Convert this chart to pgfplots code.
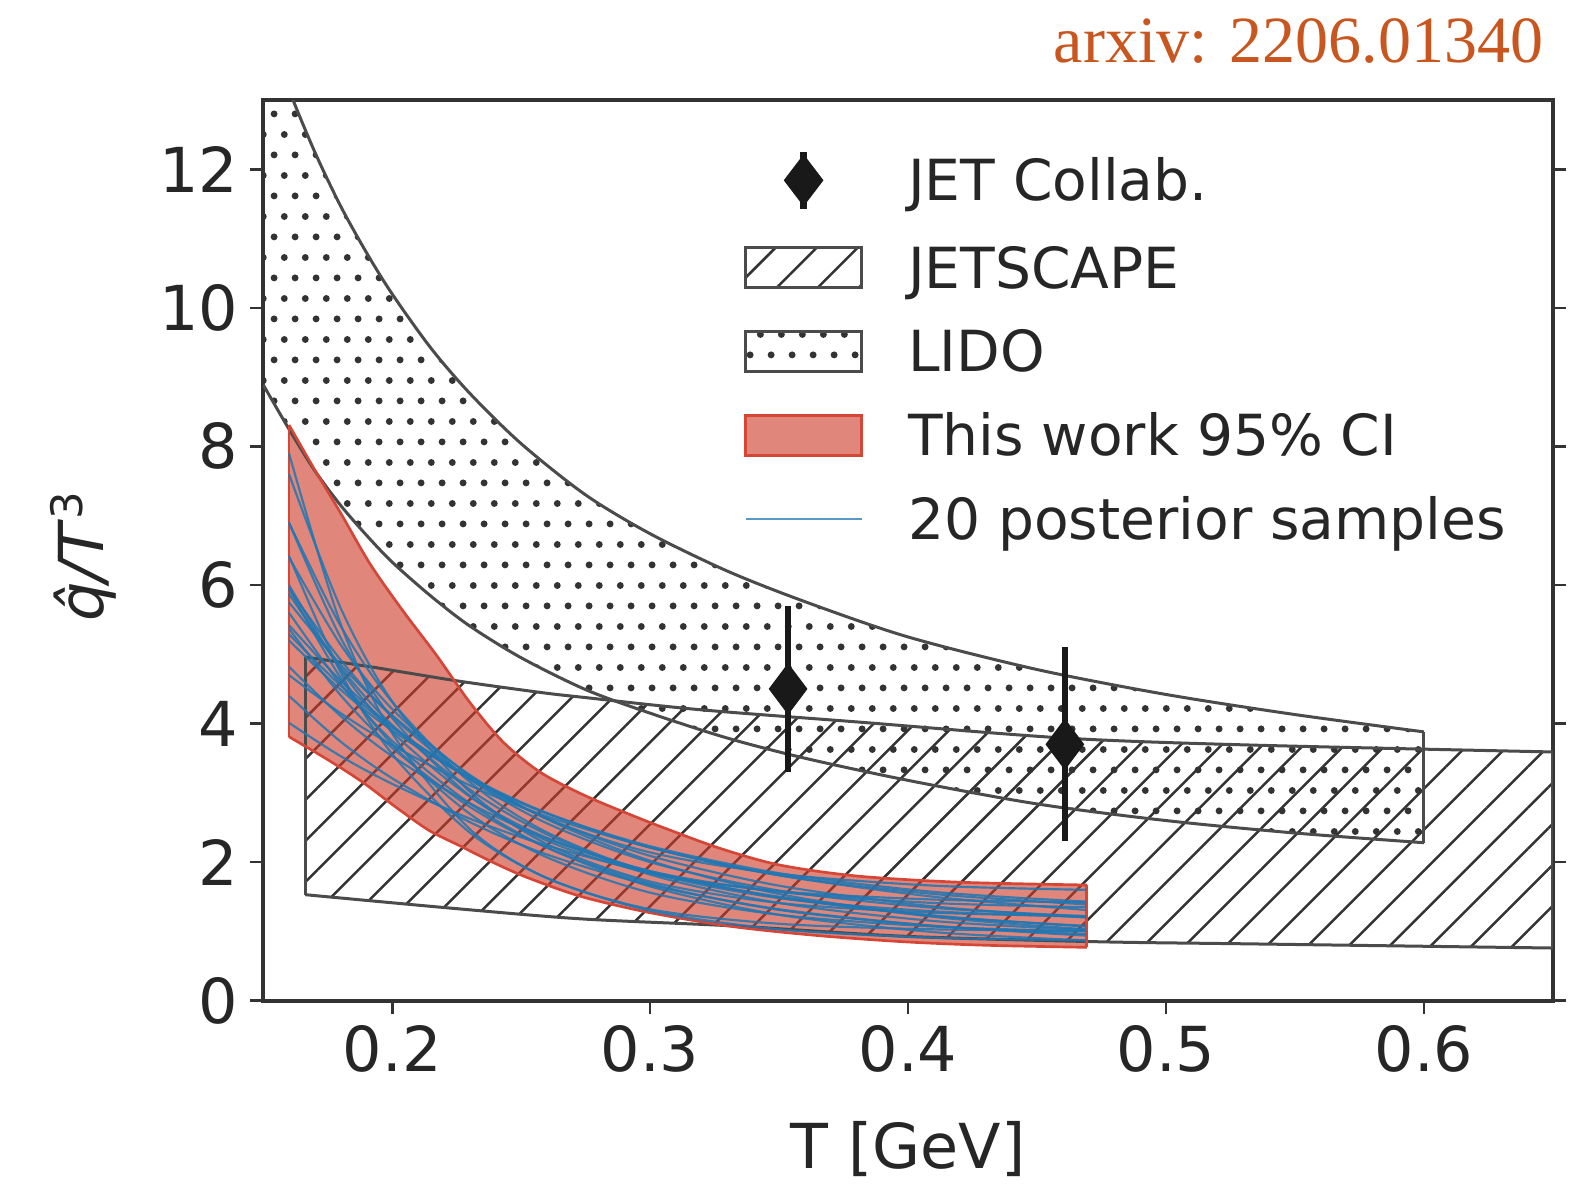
\documentclass[border=0pt]{standalone}
\usepackage{fontspec}
\setmainfont{DejaVu Sans}
\newfontfamily\timesfont{Liberation Serif}
\usepackage{pgfplots}
\usepackage{pgfplotstable}
\pgfplotsset{compat=1.18}
\usepgfplotslibrary{fillbetween}
\usetikzlibrary{patterns,patterns.meta}

\definecolor{edgegray}{RGB}{75,75,75}
\definecolor{redfill}{RGB}{205,60,40}
\definecolor{rededge}{RGB}{214,70,55}
\definecolor{blueline}{RGB}{31,119,180}
\definecolor{arxivcol}{RGB}{200,86,30}

\pgfdeclarepatternformonly{lidodots}{\pgfqpoint{0pt}{0pt}}{\pgfqpoint{6.21pt}{12.42pt}}{\pgfqpoint{6.21pt}{12.42pt}}{%
  \pgfpathcircle{\pgfqpoint{1.55pt}{1.55pt}}{1.05pt}%
  \pgfpathcircle{\pgfqpoint{4.655pt}{7.76pt}}{1.05pt}%
  \pgfusepath{fill}%
}

\pgfplotstableread{
T v
0.150 14.19
0.160 13.15
0.170 12.25
0.180 11.47
0.190 10.80
0.200 10.20
0.215 9.42
0.230 8.77
0.250 8.04
0.275 7.30
0.300 6.74
0.330 6.20
0.360 5.76
0.400 5.25
0.450 4.78
0.500 4.42
0.550 4.13
0.600 3.88
}\lidoU
\pgfplotstableread{
T v
0.150 8.89
0.160 8.25
0.170 7.65
0.180 7.15
0.190 6.72
0.200 6.33
0.215 5.84
0.230 5.41
0.250 4.95
0.275 4.49
0.300 4.15
0.330 3.79
0.360 3.50
0.400 3.18
0.450 2.84
0.500 2.60
0.550 2.42
0.600 2.28
}\lidoL
\pgfplotstableread{
T v
0.1663 4.96
0.1915 4.82
0.2245 4.62
0.2573 4.45
0.2737 4.38
0.3193 4.20
0.3814 4.02
0.4609 3.79
0.5326 3.69
0.6500 3.59
}\jsU
\pgfplotstableread{
T v
0.1663 1.53
0.2245 1.33
0.2736 1.18
0.3318 1.08
0.3985 0.93
0.4745 0.85
0.5326 0.82
0.6500 0.76
}\jsL
\pgfplotstableread{
T v
0.1600 8.31
0.1700 7.66
0.1800 7.04
0.1915 6.30
0.2043 5.62
0.2173 4.98
0.2302 4.30
0.2431 3.73
0.2573 3.30
0.2736 2.98
0.2900 2.72
0.3050 2.50
0.3270 2.20
0.3500 1.96
0.3800 1.80
0.4200 1.71
0.4693 1.67
}\redU
\pgfplotstableread{
T v
0.1600 3.81
0.1754 3.47
0.1883 3.16
0.2012 2.80
0.2142 2.46
0.2271 2.22
0.2400 1.98
0.2529 1.77
0.2736 1.50
0.3000 1.27
0.3319 1.07
0.3650 0.94
0.3985 0.85
0.4300 0.80
0.4693 0.77
}\redL
\pgfplotstableread{
T s1 s2 s3 s4 s5 s6 s7 s8 s9 s10 s11 s12 s13 s14 s15 s16 s17 s18 s19 s20
0.160 7.90 7.60 6.90 6.40 6.00 5.95 5.87 5.42 5.37 5.29 4.82 4.70 4.01 5.95 6.42 5.60 5.75 4.40 6.90 5.20
0.180 5.44 5.67 5.24 5.14 4.78 4.92 4.81 4.62 4.41 4.55 4.11 4.15 3.53 4.66 4.74 4.57 4.85 3.74 5.41 4.49
0.200 3.86 4.32 4.08 4.21 3.88 4.10 3.98 3.96 3.65 3.94 3.53 3.69 3.13 3.70 3.56 3.75 4.12 3.21 4.31 3.90
0.230 2.48 3.02 2.96 3.25 2.95 3.20 3.05 3.20 2.80 3.23 2.85 3.11 2.63 2.70 2.43 2.85 3.26 2.58 3.16 3.21
0.260 1.77 2.26 2.31 2.63 2.35 2.56 2.40 2.63 2.21 2.71 2.34 2.66 2.24 2.07 1.77 2.21 2.62 2.11 2.43 2.70
0.300 1.32 1.72 1.84 2.14 1.87 2.00 1.82 2.09 1.69 2.21 1.87 2.21 1.85 1.56 1.30 1.65 2.02 1.67 1.85 2.23
0.350 1.11 1.41 1.58 1.83 1.57 1.59 1.41 1.66 1.31 1.81 1.49 1.81 1.50 1.24 1.03 1.24 1.54 1.32 1.48 1.84
0.410 1.03 1.27 1.46 1.66 1.41 1.34 1.15 1.36 1.08 1.54 1.22 1.50 1.23 1.07 0.91 0.99 1.21 1.08 1.29 1.57
0.469 1.01 1.22 1.42 1.60 1.35 1.22 1.02 1.20 0.96 1.39 1.08 1.31 1.07 1.00 0.87 0.87 1.03 0.94 1.21 1.43
}\samples

\begin{document}
\begin{tikzpicture}
\begin{axis}[
  at={(0pt,0pt)}, anchor=south west,
  scale only axis, width=386.9pt, height=270.2pt,
  xmin=0.15, xmax=0.65, ymin=0, ymax=13,
  xtick={0.2,0.3,0.4,0.5,0.6}, xticklabels={0.2,0.3,0.4,0.5,0.6},
  ytick={0,2,4,6,8,10,12}, yticklabels={0,2,4,6,8,10,12},
  xtick pos=left, ytick pos=both, yticklabel pos=left,
  tick align=outside,
  major tick length=3.9pt,
  major tick style={line width=0.8pt, draw=black!80},
  axis line style={line width=1.3pt, draw=black!80},
  /pgf/number format/assume math mode=true,
  tick label style={font=\fontsize{18.6}{22}\selectfont, text=black!85},
  xlabel={T [GeV]},
  xlabel style={at={(axis description cs:0.5,0)}, anchor=base, yshift=-50.2pt, font=\fontsize{18.6}{22}\selectfont, text=black!85},
  ylabel={\textit{\^{q}/T}\textsuperscript{3}},
  ylabel style={at={(axis description cs:-0.1396,0.4937)}, anchor=center, font=\fontsize{18.6}{22}\selectfont, text=black!85},
  legend cell align=left,
  legend style={at={(axis description cs:0.3729,0.946)}, anchor=north west, draw=none, fill=none,
    inner sep=0pt, outer sep=0pt, row sep=8.15pt, column sep=13.5pt,
    font=\fontsize{17}{20}\selectfont, text=black!85,
    nodes={inner sep=0pt, text height=14pt, text depth=1.6pt}},
]
% legend entries
\addlegendimage{legend image code/.code={
  \path[draw=none, fill=none] (0pt,-8.5pt) rectangle (34.8pt,8.5pt);
  \draw[line width=2pt, black!90] (17.4pt,-8.5pt) -- (17.4pt,8.5pt);
  \fill[black!90] (17.4pt,7.5pt) -- (23.1pt,0pt) -- (17.4pt,-7.5pt) -- (11.7pt,0pt) -- cycle;
}}
\addlegendentry{JET Collab.}
\addlegendimage{legend image code/.code={
  \path[draw=none, fill=none] (0pt,-8.5pt) rectangle (34.8pt,8.5pt);
  \draw[edgegray, line width=0.9pt, pattern={Lines[angle=45,distance=8.7pt,line width=0.75pt]}, pattern color=black!80] (0pt,-6pt) rectangle (34.8pt,6pt);
}}
\addlegendentry{JETSCAPE}
\addlegendimage{legend image code/.code={
  \path[draw=none, fill=none] (0pt,-8.5pt) rectangle (34.8pt,8.5pt);
  \draw[edgegray, line width=0.9pt, pattern=lidodots, pattern color=black!80] (0pt,-6pt) rectangle (34.8pt,6pt);
}}
\addlegendentry{LIDO}
\addlegendimage{legend image code/.code={
  \path[draw=none, fill=none] (0pt,-8.5pt) rectangle (34.8pt,8.5pt);
  \fill[redfill, fill opacity=0.62] (0pt,-6pt) rectangle (34.8pt,6pt);
  \draw[rededge, line width=0.9pt] (0pt,-6pt) rectangle (34.8pt,6pt);
}}
\addlegendentry{This work 95\% CI}
\addlegendimage{legend image code/.code={
  \path[draw=none, fill=none] (0pt,-8.5pt) rectangle (34.8pt,8.5pt);
  \draw[blueline!75, line width=0.6pt] (0pt,0pt) -- (34.8pt,0pt);
}}
\addlegendentry{20 posterior samples}

% JETSCAPE band
\addplot[draw=none, name path=jsup, forget plot] table[x=T,y=v] {\jsU};
\addplot[draw=none, name path=jslo, forget plot] table[x=T,y=v] {\jsL};
\addplot[draw=none, pattern={Lines[angle=45,distance=8.7pt,line width=0.75pt]}, pattern color=black!80, forget plot] fill between[of=jsup and jslo];
\addplot[edgegray, line width=0.9pt, smooth, forget plot] table[x=T,y=v] {\jsU};
\addplot[edgegray, line width=0.9pt, smooth, forget plot] table[x=T,y=v] {\jsL};
\addplot[edgegray, line width=0.9pt, forget plot] coordinates {(0.1663,4.96) (0.1663,1.53)};
\addplot[edgegray, line width=0.9pt, forget plot] coordinates {(0.6500,3.59) (0.6500,0.76)};

% LIDO band
\addplot[draw=none, smooth, name path=lidoup, forget plot] table[x=T,y=v] {\lidoU};
\addplot[draw=none, smooth, name path=lidolo, forget plot] table[x=T,y=v] {\lidoL};
\addplot[draw=none, pattern=lidodots, pattern color=black!80, forget plot] fill between[of=lidoup and lidolo];
\addplot[edgegray, line width=0.9pt, smooth, forget plot] table[x=T,y=v] {\lidoU};
\addplot[edgegray, line width=0.9pt, smooth, forget plot] table[x=T,y=v] {\lidoL};
\addplot[edgegray, line width=0.9pt, forget plot] coordinates {(0.6000,3.88) (0.6000,2.28)};

% This work band
\addplot[draw=none, smooth, name path=redup, forget plot] table[x=T,y=v] {\redU};
\addplot[draw=none, smooth, name path=redlo, forget plot] table[x=T,y=v] {\redL};
\addplot[draw=none, fill=redfill, fill opacity=0.62, forget plot] fill between[of=redup and redlo];
\addplot[rededge, line width=0.8pt, smooth, forget plot] table[x=T,y=v] {\redU};
\addplot[rededge, line width=0.8pt, smooth, forget plot] table[x=T,y=v] {\redL};
\addplot[rededge, line width=0.8pt, forget plot] coordinates {(0.16,8.31) (0.16,3.81)};
\addplot[rededge, line width=0.8pt, forget plot] coordinates {(0.4693,1.67) (0.4693,0.77)};

% posterior samples
\pgfplotsinvokeforeach{1,...,20}{
  \addplot[blueline, draw opacity=0.85, line width=0.65pt, smooth, forget plot] table[x=T,y=s#1] {\samples};
}

% JET Collab
\addplot[forget plot, only marks, mark=diamond*, mark size=7.5pt, black!90,
  mark options={fill=black!90, draw=black!90, line width=0.3pt},
  error bars/.cd, y dir=both, y explicit,
  error bar style={line width=2pt, black!90}, error mark=none]
  coordinates {(0.3535,4.5) +- (0,1.2) (0.4608,3.7) +- (0,1.4)};
\end{axis}
\node[anchor=base east, inner sep=0pt, font=\timesfont\fontsize{19.8}{22}\selectfont, text=arxivcol] at (384.2pt,281.6pt) {arxiv: 2206.01340};
\path (-78.96pt,-54.39pt) rectangle (394.14pt,300.21pt);
\end{tikzpicture}
\end{document}
